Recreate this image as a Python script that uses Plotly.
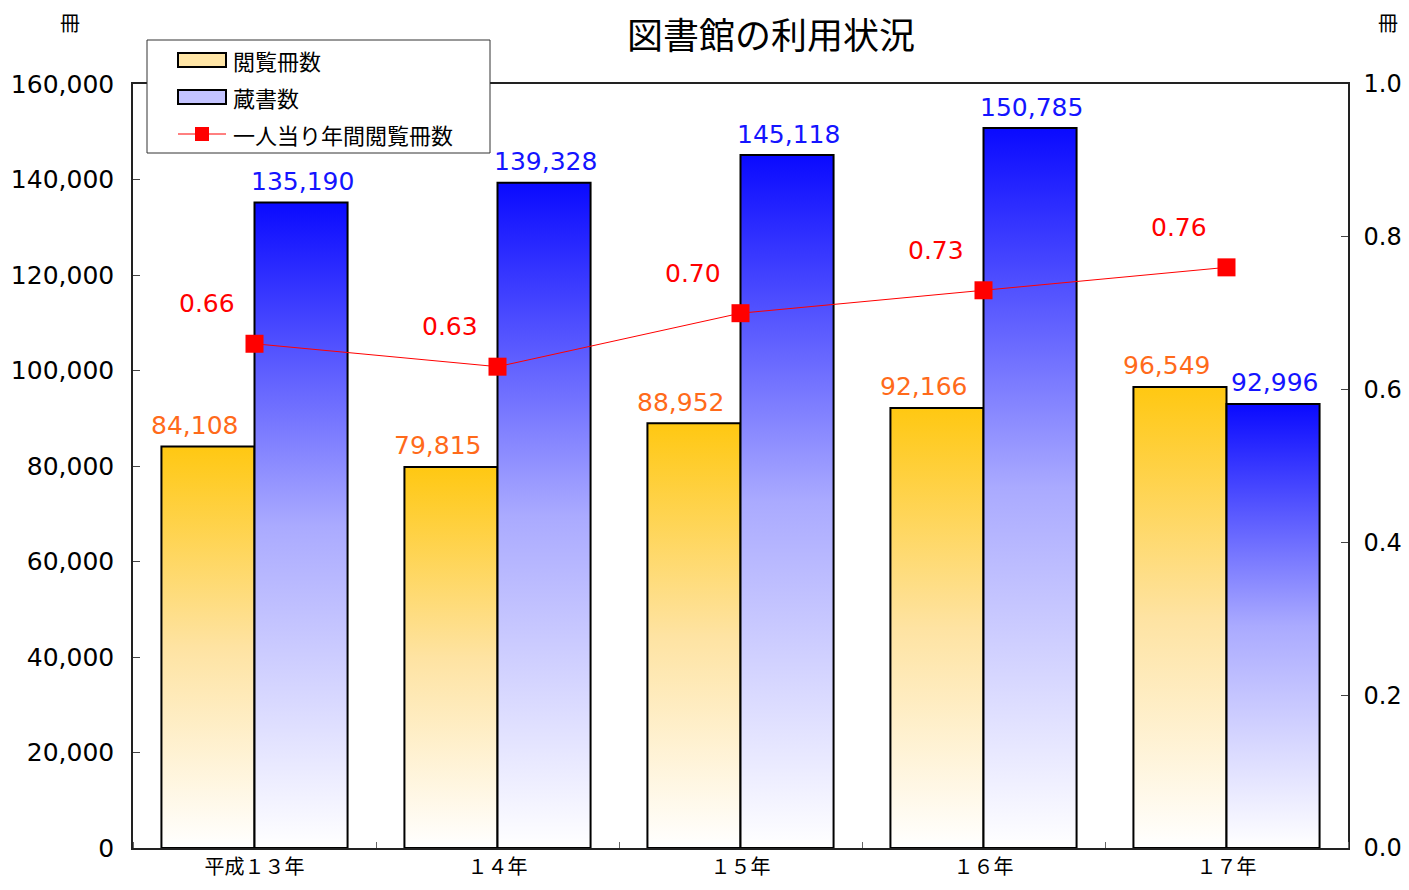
import plotly.graph_objects as go

categories = ["平成１３年", "１４年", "１５年", "１６年", "１７年"]
reading = [84108, 79815, 88952, 92166, 96549]        # 閲覧冊数
holdings = [135190, 139328, 145118, 150785, 92996]   # 蔵書数
per_capita = [0.66, 0.63, 0.70, 0.73, 0.76]          # 一人当り年間閲覧冊数
series_names = ["閲覧冊数", "蔵書数", "一人当り年間閲覧冊数"]
y_ticks = [0, 20000, 40000, 60000, 80000, 100000, 120000, 140000, 160000]
y2_ticks = [0.0, 0.2, 0.4, 0.6, 0.8, 1.0]

JP = "Noto Sans CJK JP"
NUM = "DejaVu Sans"
BAR_W = 0.383
ORANGE_SCALE = [[0, "#FFFFFF"], [0.5, "#FEE3A2"], [1, "#FFC812"]]
BLUE_SCALE = [[0, "#FFFFFF"], [0.5, "#AAAAFF"], [1, "#0A0AFF"]]

# figure size chosen so the page (with its 8px body margin) fits the window
W, H = 1393, 874
OFF = 8
# plot area in reference (page) pixels
PL, PR, PT, PB = 133, 1348, 84, 848
PW, PH = PR - PL, PB - PT


def px(x):
    return (x - PL) / PW


def py(y):
    return (PB - y) / PH


fig = go.Figure()


def add_bar(xc, left, value, scale, name):
    x0 = xc + left
    x1 = x0 + BAR_W
    fig.add_trace(go.Scatter(
        x=[x0, x1, x1, x0, x0], y=[0, 0, value, value, 0],
        mode="lines", fill="toself",
        fillgradient=dict(type="vertical", colorscale=scale),
        line=dict(color="black", width=2),
        name=name, showlegend=False, hoverinfo="skip",
    ))


for i, v in enumerate(reading):
    add_bar(i, -BAR_W, v, ORANGE_SCALE, series_names[0])
for i, v in enumerate(holdings):
    add_bar(i, 0, v, BLUE_SCALE, series_names[1])

xs = list(range(len(categories)))
fig.add_trace(go.Scatter(
    x=xs, y=per_capita, yaxis="y2", mode="lines+markers",
    line=dict(color="#FF0000", width=1),
    marker=dict(symbol="square", size=18, color="#FF0000"),
    name=series_names[2], showlegend=False, hoverinfo="skip",
))

annotations = []
for i, v in enumerate(reading):
    annotations.append(dict(x=i - BAR_W / 2, y=v, xref="x", yref="y", text=f"{v:,}",
                            showarrow=False, xshift=-13, yshift=21, yanchor="middle",
                            font=dict(family=NUM, size=25, color="#FF6A1A")))
for i, v in enumerate(holdings):
    annotations.append(dict(x=i + BAR_W / 2, y=v, xref="x", yref="y", text=f"{v:,}",
                            showarrow=False, xshift=1, yshift=21, yanchor="middle",
                            font=dict(family=NUM, size=25, color="#1414FF")))
for i, v in enumerate(per_capita):
    annotations.append(dict(x=i, y=v, xref="x", yref="y2", text=f"{v:.2f}",
                            showarrow=False, xshift=-48, yshift=40, yanchor="middle",
                            font=dict(family=NUM, size=25, color="#FF0000")))
for xr in (70, 1388):
    annotations.append(dict(x=px(xr), y=py(22), xref="paper", yref="paper", text="冊",
                            showarrow=False, yanchor="middle", xanchor="center",
                            font=dict(family=JP, size=20, color="black")))
annotations.append(dict(x=px(771), y=py(33), xref="paper", yref="paper",
                        text="図書館の利用状況", showarrow=False, yanchor="middle",
                        xanchor="center", font=dict(family=JP, size=36, color="black")))

# custom legend (box, swatches, labels)
shapes = [dict(type="rect", xref="paper", yref="paper", x0=px(147), x1=px(490),
               y0=py(153), y1=py(40), line=dict(color="#333333", width=1),
               fillcolor="white", layer="above")]
swatch_fills = ["#FFE5A6", "#C4C4FF"]
legend_rows = [60, 97, 134]
for row_y, fillc in zip(legend_rows[:2], swatch_fills):
    shapes.append(dict(type="rect", xref="paper", yref="paper", x0=px(178), x1=px(226),
                       y0=py(row_y + 7), y1=py(row_y - 7), fillcolor=fillc,
                       line=dict(color="black", width=2), layer="above"))
shapes.append(dict(type="line", xref="paper", yref="paper", x0=px(178), x1=px(226),
                   y0=py(legend_rows[2]), y1=py(legend_rows[2]),
                   line=dict(color="#FF0000", width=1), layer="above"))
shapes.append(dict(type="rect", xref="paper", yref="paper", x0=px(195), x1=px(209),
                   y0=py(legend_rows[2] + 7), y1=py(legend_rows[2] - 7),
                   fillcolor="#FF0000", line=dict(width=0), layer="above"))
for row_y, name in zip(legend_rows, series_names):
    annotations.append(dict(x=px(231), y=py(row_y), xref="paper", yref="paper", text=name,
                            showarrow=False, xanchor="left", yanchor="middle",
                            font=dict(family=JP, size=22, color="black")))

fig.update_layout(
    width=W, height=H,
    margin=dict(l=PL - OFF, r=W - (PR - OFF), t=PT - OFF, b=H - (PB - OFF), autoexpand=False),
    paper_bgcolor="white", plot_bgcolor="white",
    font=dict(family=JP, size=24, color="black"),
    showlegend=False,
    xaxis=dict(range=[-0.5, len(categories) - 0.5], tickvals=xs, ticktext=categories,
               ticks="", showgrid=False, zeroline=False, showline=True, mirror=True,
               linecolor="#222222", linewidth=1.5, tickfont=dict(family=JP, size=20),
               ticklabelstandoff=0, automargin=False,
               minor=dict(ticks="inside", tick0=0.5, dtick=1, ticklen=6, tickcolor="#666666",
                          showgrid=False)),
    yaxis=dict(range=[0, 160000], tickvals=y_ticks, tickformat=",", ticks="inside",
               ticklen=7, tickcolor="#444444", showgrid=False, zeroline=False,
               showline=True, mirror=True, linecolor="#222222", linewidth=1.5,
               ticklabelstandoff=12, automargin=False, tickfont=dict(family=NUM, size=25)),
    yaxis2=dict(range=[0, 1.0], tickvals=y2_ticks, tickformat=".1f", overlaying="y",
                side="right", ticks="inside", ticklen=7, tickcolor="#444444",
                showgrid=False, zeroline=False, showline=True, linecolor="#222222",
                linewidth=1.5, ticklabelstandoff=9, automargin=False,
                tickfont=dict(family=NUM, size=24)),
    annotations=annotations,
    shapes=shapes,
)

fig.write_html("out.html")
